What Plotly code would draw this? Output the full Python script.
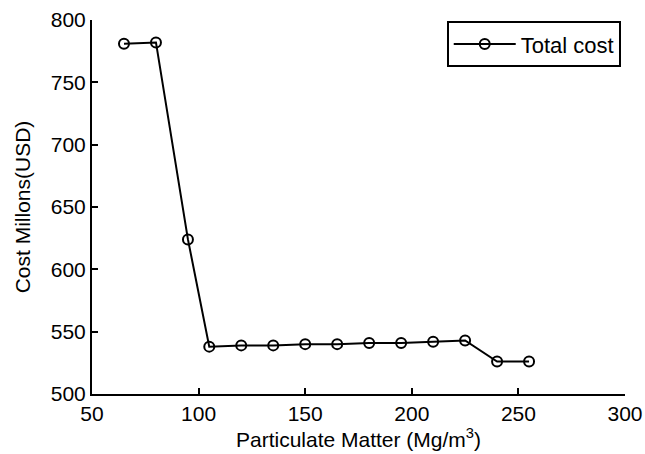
import plotly.graph_objects as go

pm = [65, 80, 95, 105, 120, 135, 150, 165, 180, 195, 210, 225, 240, 255]
total_cost = [781, 782, 624, 538, 539, 539, 540, 540, 541, 541, 542, 543, 526, 526]

x_ticks = [50, 100, 150, 200, 250, 300]
y_ticks = [500, 550, 600, 650, 700, 750, 800]

FONT = "Liberation Sans, Arial, sans-serif"

fig = go.Figure()
fig.add_trace(go.Scatter(
    x=pm, y=total_cost, mode="lines+markers", name="Total cost",
    line=dict(color="black", width=2),
    marker=dict(symbol="circle-open", size=10, color="black", line=dict(width=2, color="black")),
))

axis_common = dict(
    showgrid=False, zeroline=False, showline=True, linecolor="black", linewidth=2,
    ticks="inside", ticklen=6, tickwidth=2, tickcolor="black",
    tickfont=dict(family=FONT, size=21, color="black"),
    mirror=False, automargin=False,
)

fig.update_layout(
    width=645, height=454,
    margin=dict(l=92, r=20, t=20, b=60),
    paper_bgcolor="white", plot_bgcolor="white",
    font=dict(family=FONT, color="black", size=21),
    showlegend=True,
    legend=dict(
        x=0.992, y=0.997, xanchor="right", yanchor="top",
        bordercolor="black", borderwidth=2, bgcolor="white",
        font=dict(family=FONT, size=22, color="black"),
        tracegroupgap=0, itemwidth=62,
    ),
    xaxis=dict(axis_common, range=[50, 300], tickvals=x_ticks,
               title=dict(text="Particulate Matter (Mg/m<sup>3</sup>)",
                          font=dict(family=FONT, size=21, color="black"), standoff=4)),
    yaxis=dict(axis_common, range=[500, 800], tickvals=y_ticks,
               title=dict(text="Cost Millons(USD)",
                          font=dict(family=FONT, size=21, color="black"), standoff=14)),
)

fig.write_html("out.html")
